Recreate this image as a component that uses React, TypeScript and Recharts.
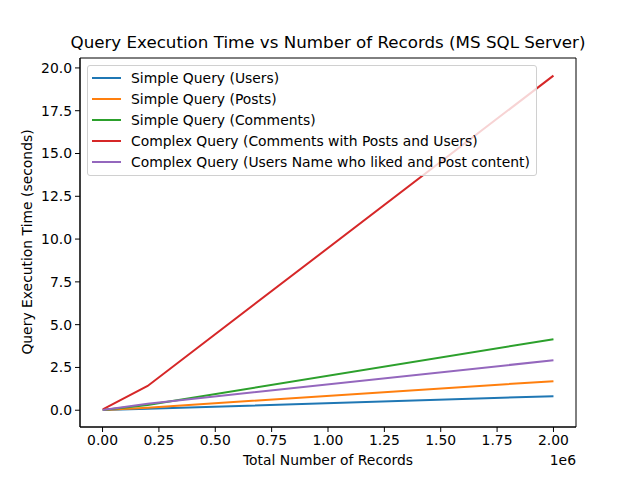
import React from 'react';
import { LineChart, Line, XAxis, YAxis, Legend, ReferenceArea } from 'recharts';

const records = [1000, 200000, 2000000];
const usersSimple = [0.01, 0.08, 0.82];
const postsSimple = [0.01, 0.15, 1.7];
const commentsSimple = [0.01, 0.3, 4.15];
const commentsComplex = [0.05, 1.42, 19.55];
const likesComplex = [0.02, 0.38, 2.92];

const xTicks = [0, 250000, 500000, 750000, 1000000, 1250000, 1500000, 1750000, 2000000];
const yTicks = [0, 2.5, 5, 7.5, 10, 12.5, 15, 17.5, 20];

const seriesList = [
  { key: 'usersSimple', name: 'Simple Query (Users)', color: '#1f77b4' },
  { key: 'postsSimple', name: 'Simple Query (Posts)', color: '#ff7f0e' },
  { key: 'commentsSimple', name: 'Simple Query (Comments)', color: '#2ca02c' },
  { key: 'commentsComplex', name: 'Complex Query (Comments with Posts and Users)', color: '#d62728' },
  { key: 'likesComplex', name: 'Complex Query (Users Name who liked and Post content)', color: '#9467bd' },
];

const data = records.map((r, i) => ({
  records: r,
  usersSimple: usersSimple[i],
  postsSimple: postsSimple[i],
  commentsSimple: commentsSimple[i],
  commentsComplex: commentsComplex[i],
  likesComplex: likesComplex[i],
}));

const FONT = 'DejaVu Sans, sans-serif';
const X_MIN = -100000;
const X_MAX = 2100000;
const Y_MIN = -0.98;
const Y_MAX = 20.58;

const LegendBox = () => (
  <div
    style={{
      border: '1px solid #d0d0d0',
      borderRadius: 3,
      background: 'rgba(255,255,255,0.8)',
      padding: '1px 6px 3px 4px',
      fontFamily: FONT,
      fontSize: 13.9,
      color: '#000',
    }}
  >
    {seriesList.map(s => (
      <div key={s.key} style={{ display: 'flex', alignItems: 'center', height: 21 }}>
        <div style={{ width: 29, height: 2, background: s.color, marginRight: 10 }} />
        <span style={{ whiteSpace: 'nowrap' }}>{s.name}</span>
      </div>
    ))}
  </div>
);

export default function App() {
  return (
    <div style={{ position: 'absolute', left: 0, top: 0, width: 640, height: 480, background: '#fff', fontFamily: FONT }}>
      <div style={{ position: 'absolute', left: 0, width: 656, top: 32, textAlign: 'center', fontSize: 16.7 }}>
        Query Execution Time vs Number of Records (MS SQL Server)
      </div>
      <div style={{ position: 'absolute', left: 0, width: 656, top: 452, textAlign: 'center', fontSize: 13.9 }}>
        Total Number of Records
      </div>
      <div style={{ position: 'absolute', right: 64, top: 452, fontSize: 13.9 }}>1e6</div>
      <div
        style={{
          position: 'absolute',
          left: 27,
          top: 242,
          transform: 'translate(-50%, -50%) rotate(-90deg)',
          whiteSpace: 'nowrap',
          fontSize: 13.9,
        }}
      >
        Query Execution Time (seconds)
      </div>
      <LineChart width={640} height={480} data={data} margin={{ top: 58, right: 64, bottom: 23, left: 20 }}>
        <XAxis
          dataKey="records"
          type="number"
          domain={[X_MIN, X_MAX]}
          ticks={xTicks}
          allowDataOverflow
          tickFormatter={(v: number) => (v / 1e6).toFixed(2)}
          height={30}
          stroke="#000"
          tickSize={5}
          tickMargin={3}
          tick={{ fill: '#000', fontSize: 13.9, fontFamily: FONT }}
        />
        <YAxis
          type="number"
          domain={[Y_MIN, Y_MAX]}
          ticks={yTicks}
          allowDataOverflow
          tickFormatter={(v: number) => v.toFixed(1)}
          width={60}
          stroke="#000"
          tickSize={5}
          tickMargin={3}
          tick={{ fill: '#000', fontSize: 13.9, fontFamily: FONT }}
        />
        <ReferenceArea x1={X_MIN} x2={X_MAX} y1={Y_MIN} y2={Y_MAX} fill="none" stroke="#000" strokeWidth={1} ifOverflow="visible" />
        {seriesList.map(s => (
          <Line
            key={s.key}
            type="linear"
            dataKey={s.key}
            name={s.name}
            stroke={s.color}
            strokeWidth={2}
            dot={false}
            isAnimationActive={false}
          />
        ))}
        <Legend
          layout="vertical"
          verticalAlign="middle"
          align="center"
          content={<LegendBox />}
          wrapperStyle={{ left: 87, top: 65, width: 'auto' }}
        />
      </LineChart>
    </div>
  );
}
